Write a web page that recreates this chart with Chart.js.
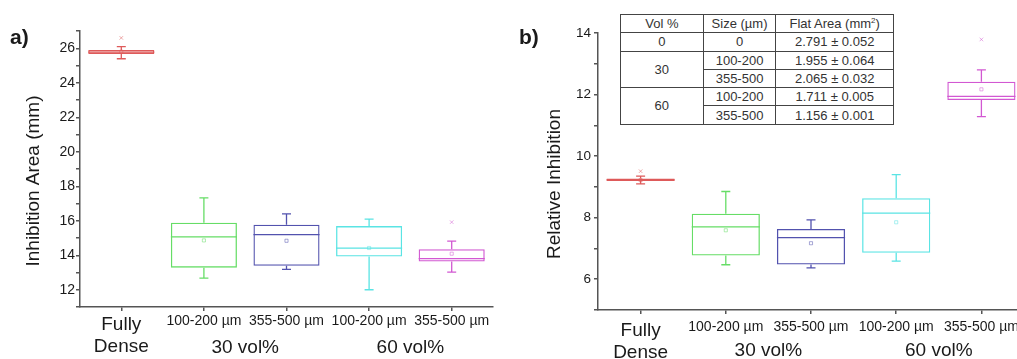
<!DOCTYPE html>
<html>
<head>
<meta charset="utf-8">
<script src="https://cdn.jsdelivr.net/npm/chart.js@4.4.1/dist/chart.umd.min.js"></script>
<style>
  html, body { margin: 0; padding: 0; background: #fff; overflow: hidden; }
  #wrap { position: relative; width: 1017px; height: 359px; overflow: hidden; }
  #areaChart { position: absolute; left: 0; top: 0; }
  #relChart { position: absolute; left: 512px; top: 0; }
  #flatTable {
    position: absolute; left: 620px; top: 14px; width: 274px;
    border-collapse: collapse; background: #fff;
    font-family: 'Liberation Sans', Arial, sans-serif; font-size: 13px; color: #333;
  }
  #flatTable td, #flatTable th {
    border: 1.5px solid #444; padding: 0; height: 17.3px; line-height: 17px;
    text-align: center; font-weight: normal;
  }
</style>
</head>
<body>
<div id="wrap">
  <canvas id="areaChart" width="510" height="359"></canvas>
  <canvas id="relChart" width="520" height="359"></canvas>
  <table id="flatTable">
    <colgroup><col style="width:83px"><col style="width:73px"><col style="width:118px"></colgroup>
    <tr><th>Vol %</th><th>Size (µm)</th><th>Flat Area (mm<sup style="font-size:8px;line-height:0">2</sup>)</th></tr>
    <tr><td>0</td><td>0</td><td>2.791 ± 0.052</td></tr>
    <tr><td rowspan="2">30</td><td>100-200</td><td>1.955 ± 0.064</td></tr>
    <tr><td>355-500</td><td>2.065 ± 0.032</td></tr>
    <tr><td rowspan="2">60</td><td>100-200</td><td>1.711 ± 0.005</td></tr>
    <tr><td>355-500</td><td>1.156 ± 0.001</td></tr>
  </table>
</div>
<script>
const FONT = "'Liberation Sans', Arial, sans-serif";

// categories and groups
const categories = [['Fully', 'Dense'], '100-200 µm', '355-500 µm', '100-200 µm', '355-500 µm'];
const groupLabels = ['30 vol%', '60 vol%'];
const boxColors = ['#de5a5a', '#66dd66', '#5252ae', '#5ae4e4', '#d258d2'];
const faintColors = ['rgba(222,90,90,0.5)', 'rgba(102,221,102,0.5)', 'rgba(82,82,174,0.5)', 'rgba(90,228,228,0.5)', 'rgba(210,88,210,0.5)'];

// a) Inhibition Area (mm)
const areaQ1 = [25.67, 13.28, 13.39, 13.93, 13.64];
const areaQ3 = [25.90, 15.88, 15.77, 15.69, 14.35];
const areaMedian = [25.78, 15.07, 15.19, 14.41, 13.80];
const areaLow = [25.39, 12.67, 13.18, 12.00, 13.02];
const areaHigh = [26.10, 17.33, 16.40, 16.09, 14.82];
const areaMean = [25.80, 14.86, 14.84, 14.42, 14.09];
const areaOutlier = [26.60, null, null, null, 15.92];

// b) Relative Inhibition
const relQ1 = [9.19, 6.77, 6.48, 6.86, 11.82];
const relQ3 = [9.27, 8.13, 7.63, 8.63, 12.42];
const relMedian = [9.23, 7.70, 7.35, 8.15, 11.94];
const relLow = [9.10, 6.47, 6.37, 6.59, 11.28];
const relHigh = [9.35, 8.85, 7.93, 9.40, 12.80];
const relMean = [9.22, 7.59, 7.17, 7.85, 12.17];
const relOutlier = [9.51, null, null, null, 13.79];

// medians + whiskers drawn on top of the floating bars
const boxExtras = {
  id: 'boxExtras',
  afterDatasetsDraw(chart, args, opts) {
    const { ctx } = chart;
    const x = chart.scales.x, y = chart.scales.y;
    const bars = chart.getDatasetMeta(0).data;
    ctx.save();
    ctx.lineWidth = 1.3;
    opts.median.forEach((m, i) => {
      const cx = x.getPixelForValue(i);
      const half = bars[i].width / 2;
      ctx.strokeStyle = boxColors[i];
      ctx.beginPath();
      ctx.moveTo(cx - half, y.getPixelForValue(m));
      ctx.lineTo(cx + half, y.getPixelForValue(m));
      [[opts.q3[i], opts.high[i]], [opts.q1[i], opts.low[i]]].forEach(([from, to]) => {
        ctx.moveTo(cx, y.getPixelForValue(from));
        ctx.lineTo(cx, y.getPixelForValue(to));
        ctx.moveTo(cx - 4.5, y.getPixelForValue(to));
        ctx.lineTo(cx + 4.5, y.getPixelForValue(to));
      });
      ctx.stroke();
    });
    ctx.restore();
  }
};

// panel letter, rotated y title, group labels under the axis
const panelText = {
  id: 'panelText',
  afterDraw(chart, args, opts) {
    const { ctx } = chart;
    const x = chart.scales.x;
    ctx.save();
    ctx.fillStyle = '#1a1a1a';
    ctx.textBaseline = 'middle';
    ctx.textAlign = 'left';
    ctx.font = 'bold 21px ' + FONT;
    ctx.fillText(opts.letter, opts.letterX, 38);
    ctx.font = '19px ' + FONT;
    ctx.textAlign = 'center';
    groupLabels.forEach((g, k) => {
      const i = 1 + 2 * k;
      ctx.fillText(g, (x.getPixelForValue(i) + x.getPixelForValue(i + 1)) / 2, opts.groupY);
    });
    ctx.translate(opts.titleX, opts.titleY);
    ctx.rotate(-Math.PI / 2);
    ctx.fillText(opts.title, 0, 0);
    ctx.restore();
  }
};

function boxChart(id, s) {
  return new Chart(document.getElementById(id), {
    type: 'bar',
    data: {
      labels: categories,
      datasets: [
        {
          data: s.q1.map((q, i) => [q, s.q3[i]]),
          backgroundColor: 'rgba(0,0,0,0)',
          borderColor: boxColors,
          borderWidth: 1.3,
          borderSkipped: false,
          barPercentage: 0.8,
          categoryPercentage: 1
        },
        {
          type: 'line',
          data: s.mean,
          showLine: false,
          pointStyle: 'rect',
          pointRadius: 2.2,
          pointBorderWidth: 1,
          pointBorderColor: faintColors,
          pointBackgroundColor: 'rgba(0,0,0,0)'
        },
        {
          type: 'line',
          data: s.outlier,
          showLine: false,
          pointStyle: 'crossRot',
          pointRadius: 2.5,
          pointBorderWidth: 1,
          pointBorderColor: faintColors
        }
      ]
    },
    options: {
      responsive: false,
      animation: false,
      layout: { padding: { top: s.top, left: 0, right: s.right, bottom: 0 } },
      scales: {
        x: {
          offset: true,
          afterFit: (sc) => { sc.height = s.xHeight; },
          border: { display: true, color: '#555', width: 1.5 },
          grid: { display: true, drawOnChartArea: false, drawTicks: true, tickLength: 4, offset: false, color: '#555', lineWidth: 1.5 },
          ticks: {
            autoSkip: false, maxRotation: 0, padding: s.xPad, color: '#1a1a1a',
            font: (c) => ({ family: FONT, size: c.index === 0 ? 19 : 14 })
          }
        },
        y: {
          min: s.min, max: s.max,
          afterFit: (sc) => { sc.width = s.yWidth; },
          border: { display: true, color: '#555', width: 1.5 },
          grid: { display: true, drawOnChartArea: false, drawTicks: true, tickLength: 4, color: '#555', lineWidth: 1.5 },
          ticks: {
            stepSize: 1, autoSkip: false, padding: s.yPad, color: '#1a1a1a',
            font: { family: FONT, size: s.yFont },
            callback: (v) => (v % 2 === 0 && v >= s.firstLabel && v <= s.lastLabel) ? v : ''
          }
        }
      },
      plugins: {
        legend: { display: false },
        tooltip: { enabled: false },
        boxExtras: { q1: s.q1, q3: s.q3, median: s.median, low: s.low, high: s.high },
        panelText: { letter: s.letter, letterX: s.letterX, title: s.title, titleX: s.titleX, titleY: s.titleY, groupY: s.groupY }
      }
    },
    plugins: [boxExtras, panelText]
  });
}

// a) panel
boxChart('areaChart', {
  q1: areaQ1, q3: areaQ3, median: areaMedian, low: areaLow, high: areaHigh, mean: areaMean, outlier: areaOutlier,
  min: 11, max: 27, firstLabel: 12, lastLabel: 26,
  top: 31, right: 17, xHeight: 52, yWidth: 80, xPad: 2, yPad: 1, yFont: 14,
  letter: 'a)', letterX: 10, title: 'Inhibition Area (mm)', titleX: 34, titleY: 181, groupY: 348
});

// b) panel
boxChart('relChart', {
  q1: relQ1, q3: relQ3, median: relMedian, low: relLow, high: relHigh, mean: relMean, outlier: relOutlier,
  min: 5, max: 14, firstLabel: 6, lastLabel: 14,
  top: 33, right: 8, xHeight: 49, yWidth: 86, xPad: 5, yPad: 3, yFont: 13.5,
  letter: 'b)', letterX: 7, title: 'Relative Inhibition', titleX: 43, titleY: 184, groupY: 351
});
</script>
</body>
</html>
